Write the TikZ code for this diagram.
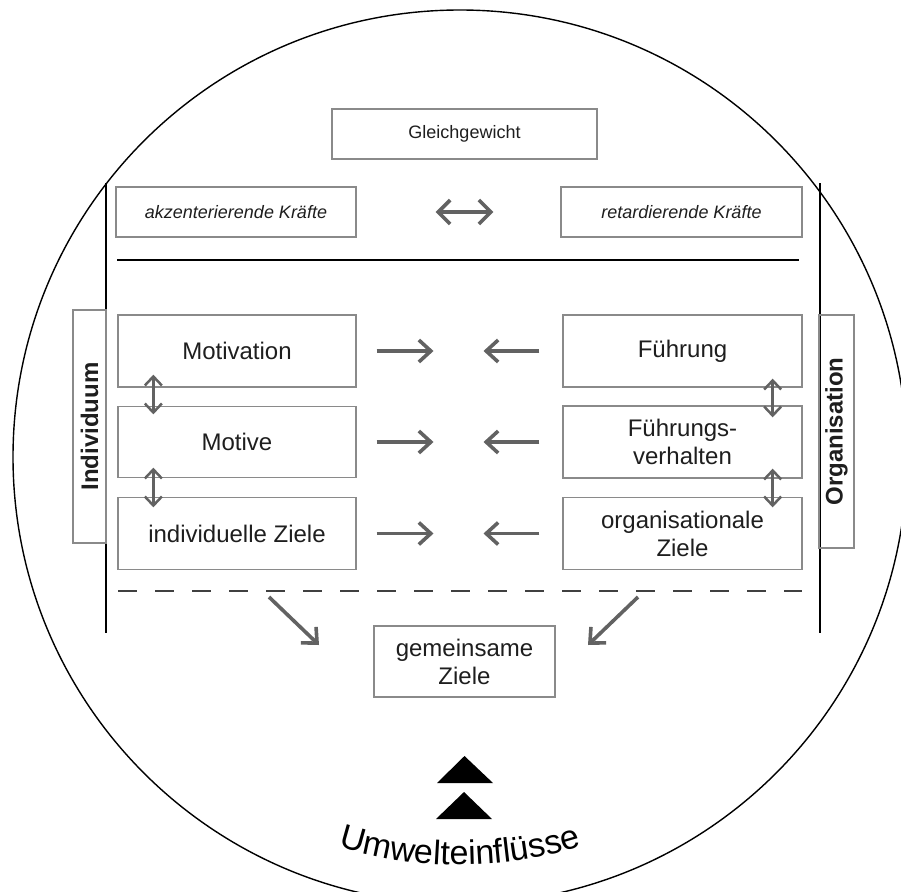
\documentclass[tikz,border=0pt]{standalone}
\usepackage{fontspec}
\setmainfont{Liberation Sans}
\usetikzlibrary{arrows.meta,decorations.text}

\definecolor{boxgray}{HTML}{8A8A8A}
\definecolor{arrgray}{HTML}{626262}
\definecolor{txtdark}{HTML}{1E1E1E}

\tikzset{
  box/.style={draw=boxgray, line width=1.3pt, text=txtdark, inner sep=0pt, align=center, font=\fontsize{24}{28}\selectfont},
  kbox/.style={box, minimum height=50pt, font=\fontsize{18}{21}\selectfont},
  sidebox/.style={box, rotate=90, minimum width=233pt, font=\bfseries\fontsize{24}{28}\selectfont},
  arr/.style={arrgray, line width=3.6pt, -{Straight Barb[length=12pt,width=22pt]}},
  darr/.style={arrgray, line width=2.5pt, {Straight Barb[length=9pt,width=17pt]}-{Straight Barb[length=9pt,width=17pt]}},
}

\begin{document}
\begin{tikzpicture}[x=1pt,y=-1pt]
\clip (0,0) rectangle (901,891);
\draw[line width=1.4pt] (460,457) circle[radius=447pt];

% top
\node[kbox, minimum width=265pt] (gg) at (464.5,134) {Gleichgewicht};
\node[kbox, minimum width=240pt] (ak) at (236,212) {\itshape akzenterierende Kräfte};
\node[kbox, minimum width=241pt] (rk) at (681.5,212) {\itshape retardierende Kräfte};
\draw[arrgray, line width=3.6pt, {Straight Barb[length=12pt,width=24pt]}-{Straight Barb[length=12pt,width=24pt]}, shorten <=79pt, shorten >=67pt] (ak) -- (rk);
\draw[line width=1.5pt] (117,260) -- (799,260);

% side lines
\draw[line width=1.5pt] (106,183) -- (106,633);
\draw[line width=1.5pt] (820,183) -- (820,633);
\node[sidebox, minimum height=33pt] (ind) at (89.5,426.5) {Individuum};
\node[sidebox, minimum height=35pt] (orgn) at (836.5,431.5) {Organisation};

% individuum
\node[box, minimum width=238pt, minimum height=72pt] (mot) at (237,351) {Motivation};
\node[box, minimum width=238pt, minimum height=71pt] (mtv) at (237,442) {Motive};
\node[box, minimum width=238pt, minimum height=72pt] (iz) at (237,533.5) {individuelle Ziele};

% organisation
\node[box, minimum width=239pt, minimum height=72pt] (fue) at (682.5,351) {Führung};
\node[box, minimum width=239pt, minimum height=72pt] (fvh) at (682.5,442) {Führungs-\\verhalten};
\node[box, minimum width=239pt, minimum height=72pt] (oz) at (682.5,533.5) {organisationale\\Ziele};

\draw[darr] ([shift={(36,-13)}]mot.south west) -- ([shift={(36,8.5)}]mtv.north west);
\draw[darr] ([shift={(36,-10.5)}]mtv.south west) -- ([shift={(36,10.5)}]iz.north west);
\draw[darr] ([shift={(-30,-9)}]fue.south east) -- ([shift={(-30,12)}]fvh.north east);
\draw[darr] ([shift={(-30,-10)}]fvh.south east) -- ([shift={(-30,10.5)}]oz.north east);

% middle
\coordinate (m1) at (458.5,351);
\coordinate (m2) at (458.5,442);
\coordinate (m3) at (458.5,533.5);
\foreach \l/\r/\m in {mot/fue/m1, mtv/fvh/m2, iz/oz/m3}{
  \draw[arr, shorten <=20pt, shorten >=25pt] (\l) -- (\m);
  \draw[arr, shorten <=23pt, shorten >=25pt] (\r) -- (\m);
}

% gemeinsame Ziele
\draw[color=black!75, line width=2.2pt, dash pattern=on 19pt off 18pt] (118,591) -- (802,591);
\node[box, minimum width=181pt, minimum height=71pt] (gz) at (464.5,661.5) {gemeinsame\\Ziele};
\coordinate (dl1) at (269,597);
\coordinate (dl2) at (319,645);
\coordinate (dr1) at (638,597);
\coordinate (dr2) at (588,645);
\draw[arr] (dl1) -- (dl2);
\draw[arr] (dr1) -- (dr2);

% umwelt
\fill (437,783) -- (464.5,756) -- (493,783) -- cycle;
\fill (436,819) -- (464,792) -- (492,819) -- cycle;
\path[decorate, decoration={text along path, text align=center,
  text={|\fontsize{34}{38}\selectfont|Umwelteinflüsse}}]
  (460,457) ++(244:408pt) arc[start angle=244, end angle=296, radius=408pt];
\end{tikzpicture}
\end{document}
